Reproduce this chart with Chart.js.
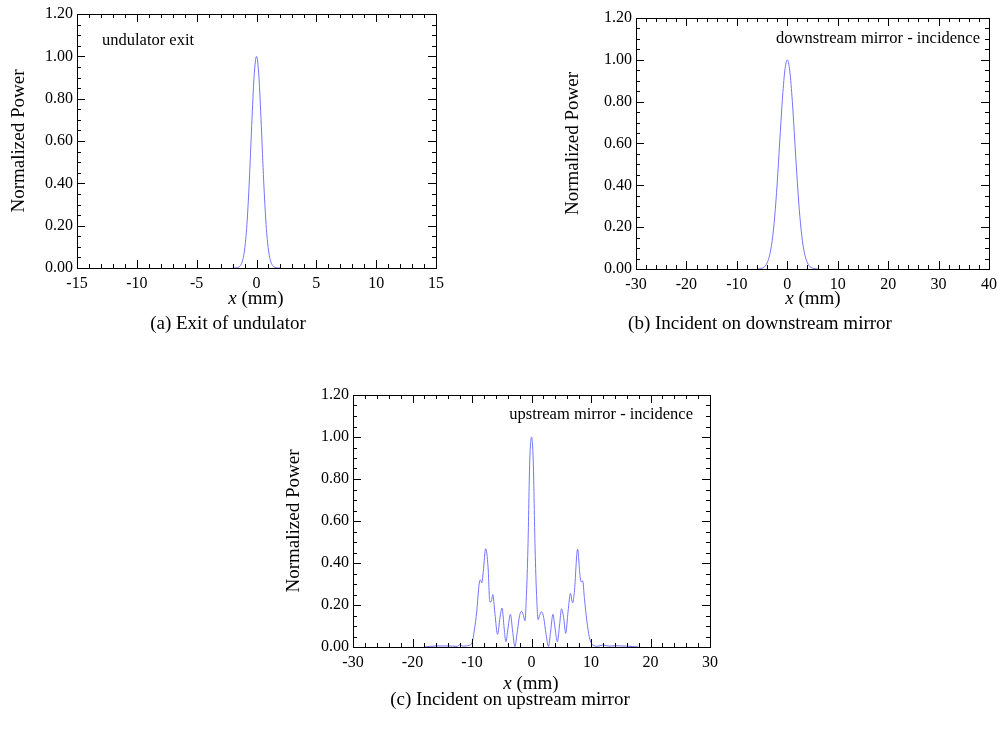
<!DOCTYPE html>
<html>
<head>
<meta charset="utf-8">
<script src="https://cdn.jsdelivr.net/npm/chart.js@4.4.1/dist/chart.umd.min.js"></script>
<style>
  body { margin: 0; background: #fff; }
  #page { position: relative; width: 1003px; height: 745px; font-family: "Liberation Serif", serif; color: #000; }
  #page canvas { position: absolute; left: 0; top: 0; }
  .txt { position: absolute; white-space: nowrap; line-height: 1; }
  .cap { font-size: 19px; width: 400px; text-align: center; }
  .xt { font-size: 19px; width: 200px; text-align: center; }
  .ann { font-size: 16.5px; }
</style>
</head>
<body>
<div id="page">
  <canvas id="chartA" width="1003" height="745"></canvas>
  <canvas id="chartB" width="1003" height="745"></canvas>
  <canvas id="chartC" width="1003" height="745"></canvas>

  <div class="txt ann" style="left:102px; top:32px;">undulator exit</div>
  <div class="txt ann" style="right:23px; top:30px;">downstream mirror - incidence</div>
  <div class="txt ann" style="right:310px; top:406px;">upstream mirror - incidence</div>

  <div class="txt xt" style="left:156px; top:288px;"><i>x</i> (mm)</div>
  <div class="txt xt" style="left:713px; top:288px;"><i>x</i> (mm)</div>
  <div class="txt xt" style="left:431px; top:673px;"><i>x</i> (mm)</div>

  <div class="txt cap" style="left:28px; top:313px;">(a) Exit of undulator</div>
  <div class="txt cap" style="left:560px; top:313px;">(b) Incident on downstream mirror</div>
  <div class="txt cap" style="left:310px; top:689px;">(c) Incident on upstream mirror</div>
</div>

<script>
// (a) exit of undulator
var xExit = [-2, -1.8, -1.6, -1.4, -1.2, -1, -0.8, -0.6, -0.4, -0.2, 0, 0.2, 0.4, 0.6, 0.8, 1, 1.2, 1.4, 1.6, 1.8, 2];
var pExit = [0, 0, 0.002, 0.008, 0.029, 0.085, 0.206, 0.411, 0.674, 0.906, 1.0, 0.906, 0.674, 0.411, 0.206, 0.085, 0.029, 0.008, 0.002, 0, 0];

// (b) incident on downstream mirror
var xDown = [-6, -5.5, -5, -4.5, -4, -3.5, -3, -2.5, -2, -1.5, -1, -0.5, 0, 0.5, 1, 1.5, 2, 2.5, 3, 3.5, 4, 4.5, 5, 5.5, 6];
var pDown = [0, 0.001, 0.004, 0.011, 0.029, 0.066, 0.135, 0.249, 0.411, 0.607, 0.801, 0.946, 1.0, 0.946, 0.801, 0.607, 0.411, 0.249, 0.135, 0.066, 0.029, 0.011, 0.004, 0.001, 0];

// (c) incident on upstream mirror
var xUp = [-18, -16, -14, -12.5, -12, -11.5, -11, -10.5, -10, -9.6, -9.2, -8.8, -8.6, -8.35, -8.1, -7.7, -7.3, -7.0, -6.8, -6.5,
  -6.15, -5.7, -5.3, -4.95, -4.6, -4.3, -3.95, -3.55, -3.15, -2.8, -2.4, -2.0, -1.65, -1.35, -1.1, -0.85, -0.6, -0.3, 0,
  0.3, 0.6, 0.85, 1.1, 1.35, 1.7, 2.05, 2.45, 2.85, 3.2, 3.6, 3.95, 4.35, 4.7, 5.05, 5.4, 5.75, 6.15, 6.55, 6.9, 7.2,
  7.75, 8.15, 8.35, 8.6, 8.9, 9.3, 9.7, 10.1, 10.6, 11, 12, 13, 14, 16, 18];
var pUp = [0, 0.005, 0.005, 0.003, 0.012, 0.004, 0.005, 0.008, 0.02, 0.08, 0.17, 0.30, 0.32, 0.305, 0.36, 0.468, 0.38, 0.215, 0.215, 0.25,
  0.16, 0.06, 0.14, 0.185, 0.09, 0.025, 0.09, 0.155, 0.07, 0.002, 0.07, 0.15, 0.17, 0.15, 0.125, 0.25, 0.47, 0.88, 1.0,
  0.88, 0.47, 0.25, 0.13, 0.15, 0.168, 0.14, 0.06, 0.002, 0.07, 0.155, 0.09, 0.025, 0.1, 0.182, 0.14, 0.065, 0.17, 0.255, 0.21, 0.26,
  0.466, 0.34, 0.31, 0.315, 0.23, 0.125, 0.05, 0.015, 0.006, 0.003, 0.01, 0.004, 0.006, 0.004, 0];

var yTicks = [0, 0.2, 0.4, 0.6, 0.8, 1.0, 1.2];

Chart.defaults.font.family = '"Liberation Serif", serif';
Chart.defaults.color = '#000';

// frame with inward major/minor ticks on all four sides
var insideTicks = {
  id: 'insideTicks',
  afterDatasetsDraw: function(chart, args, opts) {
    var ctx = chart.ctx, a = chart.chartArea, x = chart.scales.x, y = chart.scales.y;
    ctx.save();
    ctx.strokeStyle = '#000';
    ctx.lineWidth = 1;
    ctx.beginPath();
    var n = Math.round((x.max - x.min) / opts.xMinor);
    for (var i = 0; i <= n; i++) {
      var v = x.min + i * opts.xMinor;
      var px = Math.round(x.getPixelForValue(v)) + 0.5;
      var r = v / opts.xMajor;
      var len = Math.abs(r - Math.round(r)) < 1e-6 ? 8 : 4;
      ctx.moveTo(px, a.bottom); ctx.lineTo(px, a.bottom - len);
      ctx.moveTo(px, a.top); ctx.lineTo(px, a.top + len);
    }
    var m = Math.round((y.max - y.min) / 0.05);
    for (var j = 0; j <= m; j++) {
      var w = y.min + j * 0.05;
      var py = Math.round(y.getPixelForValue(w)) + 0.5;
      var len2 = j % 4 === 0 ? 8 : 4;
      ctx.moveTo(a.left, py); ctx.lineTo(a.left + len2, py);
      ctx.moveTo(a.right, py); ctx.lineTo(a.right - len2, py);
    }
    ctx.stroke();
    ctx.strokeRect(Math.round(a.left) + 0.5, Math.round(a.top) + 0.5,
      Math.round(a.right - a.left), Math.round(a.bottom - a.top));
    ctx.restore();
  }
};

function makePanel(id, xs, ys, xmin, xmax, xstep, xminor, pad, yWidth) {
  var pts = xs.map(function(v, i) { return { x: v, y: ys[i] }; });
  return new Chart(document.getElementById(id), {
    type: 'line',
    data: {
      datasets: [{
        data: pts,
        borderColor: '#7474ff',
        borderWidth: 1,
        pointRadius: 0,
        fill: false,
        cubicInterpolationMode: 'monotone'
      }]
    },
    options: {
      responsive: false,
      animation: false,
      events: [],
      layout: { padding: pad },
      plugins: {
        legend: { display: false },
        tooltip: { enabled: false },
        insideTicks: { xMajor: xstep, xMinor: xminor }
      },
      scales: {
        x: {
          type: 'linear',
          min: xmin,
          max: xmax,
          grid: { display: false, drawTicks: false },
          border: { display: false },
          ticks: { stepSize: xstep, padding: 6, font: { size: 16 }, maxRotation: 0 },
          afterFit: function(s) { s.height = 30; }
        },
        y: {
          min: 0,
          max: 1.2,
          grid: { display: false, drawTicks: false },
          border: { display: false },
          afterBuildTicks: function(s) { s.ticks = yTicks.map(function(v) { return { value: v }; }); },
          ticks: {
            padding: 4,
            font: { size: 16 },
            callback: function(v) { return Number(v).toFixed(2); }
          },
          title: { display: true, text: 'Normalized Power', font: { size: 19 }, padding: { top: 2, bottom: 0 } },
          afterFit: function(s) { s.width = yWidth; }
        }
      }
    },
    plugins: [insideTicks]
  });
}

makePanel('chartA', xExit, pExit, -15, 15, 5, 1, { left: 6, top: 14, right: 567, bottom: 447 }, 71);
makePanel('chartB', xDown, pDown, -30, 40, 10, 2, { left: 560, top: 18, right: 12, bottom: 446 }, 76);
makePanel('chartC', xUp, pUp, -30, 30, 10, 2, { left: 281, top: 395, right: 293, bottom: 68 }, 72);
</script>
</body>
</html>
